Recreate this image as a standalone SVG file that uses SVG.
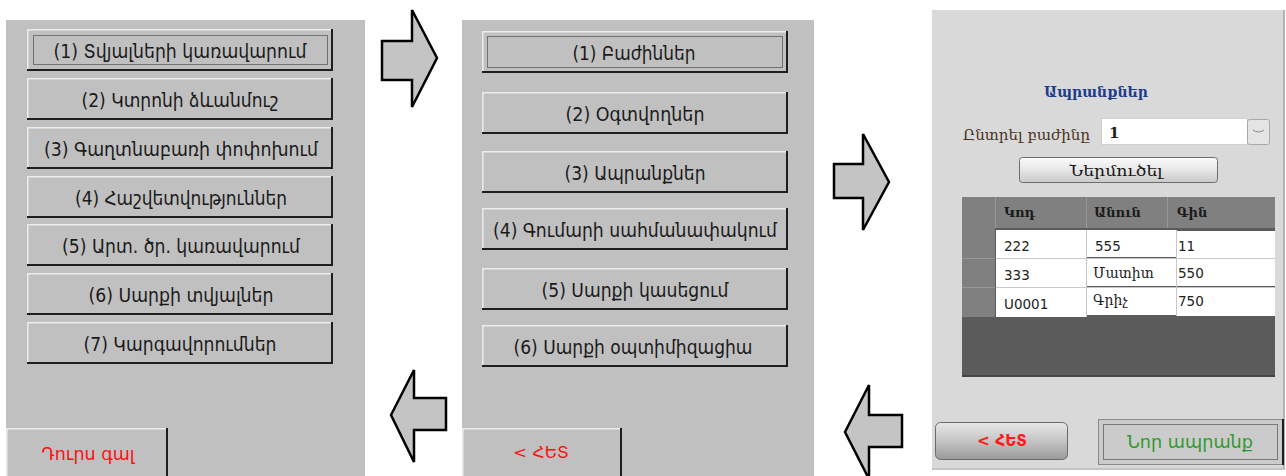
<svg xmlns="http://www.w3.org/2000/svg" width="1286" height="476" viewBox="0 0 1286 476">
<defs>
<style>
.panel{fill:#c0c0c0}
.bf{fill:#c0c0c0}
.hl{fill:none;stroke:#ececec;stroke-width:1.5}
.sh{fill:none;stroke:#1e1e1e;stroke-width:2}
.bt{font-family:"DejaVu Sans",sans-serif;font-size:19.5px;fill:#1a1a1a;text-anchor:middle}
.focus{fill:none;stroke:#222;stroke-width:1;stroke-dasharray:1 1}
.red{font-family:"DejaVu Sans",sans-serif;fill:#ff1010;text-anchor:middle}
.arrow{fill:#c4c4c4;stroke:#000;stroke-width:2.5;stroke-linejoin:miter}
.ser{font-family:"DejaVu Serif","Liberation Serif",serif}
.num{font-family:"DejaVu Sans",sans-serif;font-size:13.5px;fill:#222}
.hdr{font-family:"DejaVu Serif",serif;font-size:13px;font-weight:bold;fill:#1a1a1a}
.cell{fill:#fff}
.cline{stroke:#c8c8c8;stroke-width:1}
</style>
<linearGradient id="gImp" x1="0" y1="0" x2="0" y2="1">
<stop offset="0" stop-color="#fbfbfb"/><stop offset="0.5" stop-color="#e6e6e6"/><stop offset="1" stop-color="#c9c9c9"/>
</linearGradient>
<linearGradient id="gBack" x1="0" y1="0" x2="0" y2="1">
<stop offset="0" stop-color="#e8e8e8"/><stop offset="0.45" stop-color="#c8c8c8"/><stop offset="1" stop-color="#9a9a9a"/>
</linearGradient>
</defs>
<rect width="1286" height="476" fill="#fff"/>

<!-- Left panel -->
<g id="panel-main-menu">
<rect class="panel" x="6" y="20" width="359" height="456"/>
<g id="btn-l1">
<rect class="bf" x="27" y="29" width="306" height="42"/>
<path class="hl" d="M27.8 70 V29.8 H332"/><path class="sh" d="M27 70 H332 V29"/>
<rect class="focus" x="33.5" y="35.5" width="294" height="29"/>
<text class="bt" x="180" y="57.5" textLength="253" lengthAdjust="spacingAndGlyphs">(1) Տվյալների կառավարում</text>
</g>
<g id="btn-l2">
<rect class="bf" x="27" y="78" width="306" height="42"/>
<path class="hl" d="M27.8 119 V78.8 H332"/><path class="sh" d="M27 119 H332 V78"/>
<text class="bt" x="180" y="106.5" textLength="197" lengthAdjust="spacingAndGlyphs">(2) Կտրոնի ձևանմուշ</text>
</g>
<g id="btn-l3">
<rect class="bf" x="27" y="127" width="306" height="42"/>
<path class="hl" d="M27.8 168 V127.8 H332"/><path class="sh" d="M27 168 H332 V127"/>
<text class="bt" x="181" y="155.5" textLength="274" lengthAdjust="spacingAndGlyphs">(3) Գաղտնաբառի փոփոխում</text>
</g>
<g id="btn-l4">
<rect class="bf" x="27" y="176" width="306" height="42"/>
<path class="hl" d="M27.8 217 V176.8 H332"/><path class="sh" d="M27 217 H332 V176"/>
<text class="bt" x="181" y="204.5" textLength="212" lengthAdjust="spacingAndGlyphs">(4) Հաշվետվություններ</text>
</g>
<g id="btn-l5">
<rect class="bf" x="27" y="224" width="306" height="42"/>
<path class="hl" d="M27.8 265 V224.8 H332"/><path class="sh" d="M27 265 H332 V224"/>
<text class="bt" x="181" y="252.5" textLength="238" lengthAdjust="spacingAndGlyphs">(5) Արտ. ծր. կառավարում</text>
</g>
<g id="btn-l6">
<rect class="bf" x="27" y="273" width="306" height="42"/>
<path class="hl" d="M27.8 314 V273.8 H332"/><path class="sh" d="M27 314 H332 V273"/>
<text class="bt" x="181" y="301.5" textLength="185" lengthAdjust="spacingAndGlyphs">(6) Սարքի տվյալներ</text>
</g>
<g id="btn-l7">
<rect class="bf" x="27" y="322" width="306" height="42"/>
<path class="hl" d="M27.8 363 V322.8 H332"/><path class="sh" d="M27 363 H332 V322"/>
<text class="bt" x="180" y="350.5" textLength="193" lengthAdjust="spacingAndGlyphs">(7) Կարգավորումներ</text>
</g>
<g id="btn-exit">
<rect class="bf" x="6" y="428" width="162" height="48"/>
<path class="hl" d="M6.8 476 V428.8 H167"/><path class="sh" d="M167 428 V476"/>
<text class="red" x="88" y="460" font-size="17" textLength="93" lengthAdjust="spacingAndGlyphs">Դուրս գալ</text>
</g>
</g>

<!-- Middle panel -->
<g id="panel-admin">
<rect class="panel" x="462" y="20" width="352" height="456"/>
<g id="btn-m1">
<rect class="bf" x="482" y="31" width="306" height="42"/>
<path class="hl" d="M482.8 72 V31.8 H787"/><path class="sh" d="M482 72 H787 V31"/>
<rect class="focus" x="487.5" y="36.5" width="295" height="31"/>
<text class="bt" x="634" y="59.5" textLength="123" lengthAdjust="spacingAndGlyphs">(1) Բաժիններ</text>
</g>
<g id="btn-m2">
<rect class="bf" x="482" y="92" width="306" height="42"/>
<path class="hl" d="M482.8 133 V92.8 H787"/><path class="sh" d="M482 133 H787 V92"/>
<text class="bt" x="635" y="120.5" textLength="139" lengthAdjust="spacingAndGlyphs">(2) Օգտվողներ</text>
</g>
<g id="btn-m3">
<rect class="bf" x="482" y="151" width="306" height="42"/>
<path class="hl" d="M482.8 192 V151.8 H787"/><path class="sh" d="M482 192 H787 V151"/>
<text class="bt" x="635" y="179.5" textLength="141" lengthAdjust="spacingAndGlyphs">(3) Ապրանքներ</text>
</g>
<g id="btn-m4">
<rect class="bf" x="482" y="208" width="306" height="42"/>
<path class="hl" d="M482.8 249 V208.8 H787"/><path class="sh" d="M482 249 H787 V208"/>
<text class="bt" x="635" y="236.5" textLength="284" lengthAdjust="spacingAndGlyphs">(4) Գումարի սահմանափակում</text>
</g>
<g id="btn-m5">
<rect class="bf" x="482" y="268" width="306" height="42"/>
<path class="hl" d="M482.8 309 V268.8 H787"/><path class="sh" d="M482 309 H787 V268"/>
<text class="bt" x="635" y="296.5" textLength="187" lengthAdjust="spacingAndGlyphs">(5) Սարքի կասեցում</text>
</g>
<g id="btn-m6">
<rect class="bf" x="482" y="325" width="306" height="42"/>
<path class="hl" d="M482.8 366 V325.8 H787"/><path class="sh" d="M482 366 H787 V325"/>
<text class="bt" x="633" y="353.5" textLength="239" lengthAdjust="spacingAndGlyphs">(6) Սարքի օպտիմիզացիա</text>
</g>
<g id="btn-back-m">
<rect class="bf" x="462" y="428" width="160" height="48"/>
<path class="hl" d="M462.8 476 V428.8 H621"/><path class="sh" d="M621 428 V476"/>
<text class="red" x="541" y="458" font-size="15" textLength="56" lengthAdjust="spacingAndGlyphs">&lt; ՀԵՏ</text>
</g>
</g>

<!-- Right panel -->
<g id="panel-products">
<rect x="932" y="10" width="352" height="460" fill="#d9d9d9"/>
<rect x="1283" y="10" width="2" height="460" fill="#b4b4b4"/>
<rect x="932" y="468" width="353" height="2" fill="#c4c4c4"/>
<text class="ser" x="1096" y="97" font-size="14" font-weight="bold" fill="#1d3c8c" text-anchor="middle" textLength="104" lengthAdjust="spacingAndGlyphs">Ապրանքներ</text>
<text class="ser" x="963" y="140" font-size="15" fill="#4a3322" textLength="127" lengthAdjust="spacingAndGlyphs">Ընտրել բաժինը</text>
<g id="combo">
<rect x="1101.5" y="118.5" width="146" height="26" fill="#fff" stroke="#d0d0d0"/>
<rect x="1247.5" y="119.5" width="22" height="25" rx="2" fill="#e4e4e4" stroke="#a8a8a8"/>
<path d="M1253 130 Q1258.5 134 1264 130" fill="none" stroke="#888" stroke-width="1"/>
<text class="ser" x="1109" y="138" font-size="15" font-weight="bold" fill="#222">1</text>
</g>
<g id="btn-import">
<rect x="1019.5" y="157.5" width="198" height="25" rx="3" fill="url(#gImp)" stroke="#6e6e6e"/>
<text class="ser" x="1116" y="176" font-size="14" fill="#151515" text-anchor="middle" textLength="93" lengthAdjust="spacingAndGlyphs">Ներմուծել</text>
</g>
<g id="table">
<rect x="962" y="197" width="313" height="180" fill="#5b5b5b"/>
<rect x="962" y="197" width="313" height="31" fill="#808080"/>
<rect x="962" y="228" width="33" height="89" fill="#808080"/>
<line x1="995.5" y1="197" x2="995.5" y2="228" stroke="#979797"/>
<line x1="1086.5" y1="197" x2="1086.5" y2="228" stroke="#979797"/>
<line x1="1167.5" y1="197" x2="1167.5" y2="228" stroke="#979797"/>
<line x1="962" y1="258.5" x2="995" y2="258.5" stroke="#979797"/>
<line x1="962" y1="287.5" x2="995" y2="287.5" stroke="#979797"/>
<rect class="cell" x="996" y="230" width="90" height="28"/>
<rect class="cell" x="996" y="259" width="90" height="28"/>
<rect class="cell" x="996" y="288" width="90" height="29"/>
<rect class="cell" x="1087" y="230" width="89" height="27"/>
<rect class="cell" x="1087" y="259" width="89" height="27"/>
<rect class="cell" x="1087" y="287" width="89" height="28"/>
<rect class="cell" x="1177" y="231" width="98" height="27"/>
<rect class="cell" x="1177" y="259" width="98" height="27"/>
<rect class="cell" x="1177" y="288" width="98" height="28"/>
<line class="cline" x1="996" y1="258.5" x2="1275" y2="258.5"/>
<line class="cline" x1="996" y1="287.5" x2="1275" y2="287.5"/>
<line class="cline" x1="1086.5" y1="230" x2="1086.5" y2="317"/>
<line class="cline" x1="1176.5" y1="230" x2="1176.5" y2="316"/>
<rect x="962" y="375" width="313" height="2" fill="#454545"/>
<text class="hdr" x="1004" y="217">Կոդ</text>
<text class="hdr" x="1094" y="217">Անուն</text>
<text class="hdr" x="1177" y="217">Գին</text>
<text class="num" x="1004" y="251">222</text>
<text class="num" x="1095" y="251">555</text>
<text class="num" x="1178" y="251">11</text>
<text class="num" x="1004" y="280">333</text>
<text class="ser" x="1093" y="278" font-size="14" fill="#222">Մատիտ</text>
<text class="num" x="1178" y="278">550</text>
<text class="num" x="1004" y="309">U0001</text>
<text class="ser" x="1093" y="305" font-size="14" fill="#222">Գրիչ</text>
<text class="num" x="1178" y="306">750</text>
</g>
<g id="btn-back-r">
<rect x="935.5" y="422.5" width="132" height="37" rx="5" fill="url(#gBack)" stroke="#6a6a6a"/>
<text x="1002" y="446" font-family="DejaVu Sans,sans-serif" font-size="15" font-weight="bold" fill="#ff1a1a" text-anchor="middle" textLength="50" lengthAdjust="spacingAndGlyphs">&lt; ՀԵՏ</text>
</g>
<g id="btn-new">
<rect x="1098.5" y="419.5" width="185" height="45" fill="#cbcbcb" stroke="#8a8a8a"/>
<path d="M1283 419 V465" stroke="#1e1e1e" stroke-width="2"/>
<rect class="focus" x="1103.5" y="424.5" width="174" height="35"/>
<text x="1190" y="448" font-family="DejaVu Sans,sans-serif" font-size="17" fill="#2f9a2f" text-anchor="middle" textLength="126" lengthAdjust="spacingAndGlyphs">Նոր ապրանք</text>
</g>
</g>

<!-- Connectors (arrows) -->
<g id="connectors">
<polygon class="arrow" points="382,41 412,41 412,10 437,58 412,107 412,80 382,80"/>
<polygon class="arrow" points="834,164 863,164 863,134 889,182 863,230 863,198 834,198"/>
<polygon class="arrow" points="391,415 414,370 414,398 446,398 446,430 414,430 414,462"/>
<polygon class="arrow" points="845,432 869,385 869,415 902,415 902,447 869,447 869,479"/>
</g>
</svg>
